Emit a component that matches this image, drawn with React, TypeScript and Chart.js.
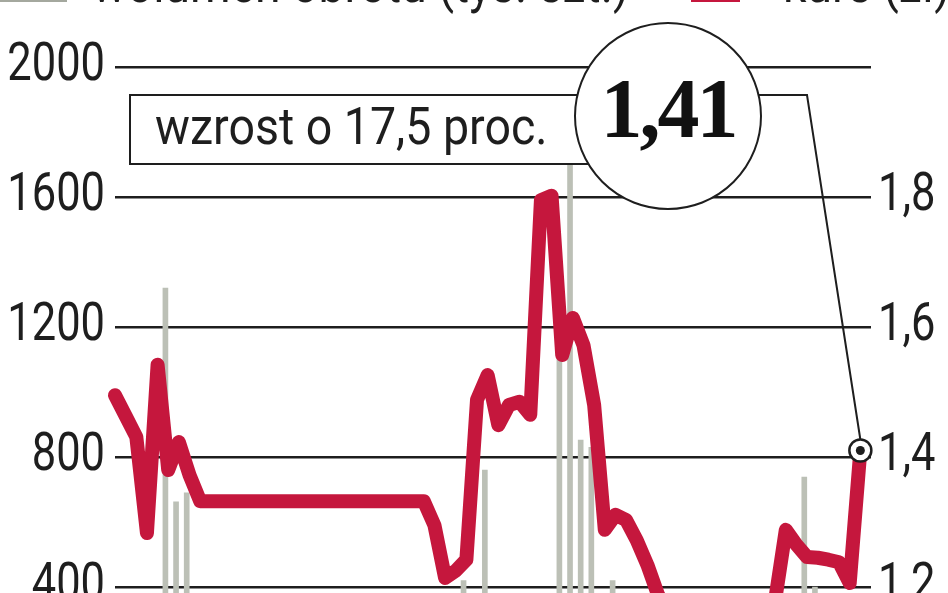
import { useEffect, useRef } from "react";
import Chart from "chart.js/auto";

// kurs (zł) – one value per session
const price = [
  1.495, 1.463, 1.431, 1.283, 1.542, 1.38, 1.423, 1.372, 1.332,
  1.332, 1.332, 1.332, 1.332, 1.332, 1.332, 1.332, 1.332, 1.332, 1.332,
  1.332, 1.332, 1.332, 1.332, 1.332, 1.332, 1.332, 1.332, 1.332, 1.332,
  1.332, 1.295, 1.214, 1.225, 1.242, 1.488, 1.526, 1.449, 1.48, 1.485,
  1.465, 1.795, 1.802, 1.557, 1.614, 1.572, 1.48, 1.288, 1.311, 1.303,
  1.272, 1.234, 1.188, 1.149, 1.134, 1.137, 1.126, 1.118, 1.134, 1.142,
  1.134, 1.149, 1.165, 1.18, 1.288, 1.265, 1.246, 1.245, 1.242, 1.238,
  1.206, 1.41,
];

// wolumen obrotu (tys. szt.) – bars between sessions, only the visible tops
const volume = [
  null, null, null, null, 1320, 662, 690, null, null, null,
  null, null, null, null, null, null, null, null, null, null,
  null, null, null, null, null, null, null, null, null, null,
  null, null, 420, null, 760, null, null, null, null, null,
  null, 1190, 1760, 852, 830, null, 420, null, null, null,
  null, null, null, null, null, null, null, null, null, null,
  null, null, null, null, 738, 400, null, null, null, null,
];

const volumeTicks = [0, 400, 800, 1200, 1600, 2000];
const priceTicks = [1.0, 1.2, 1.4, 1.6, 1.8, 2.0];

// the time axis runs one session past the last quote
const sessionLabels = Array.from({ length: price.length + 1 }, (_, i) => String(i + 1));
const slotLabels = sessionLabels.slice(1);

const LINE = "#c5173d";
const BAR = "#bcc0b6";
const INK = "#1e1e1e";
const SANS = "Roboto, 'DejaVu Sans', sans-serif";

const fmtVolume = (v: number) => String(v);
const fmtPrice = (v: number) => (v >= 1.99 ? "" : v.toFixed(1).replace(".", ","));

// condensed tick labels (no narrow font available, so squeeze Roboto)
const narrowTicks = {
  id: "narrowTicks",
  afterDraw(chart: any) {
    const ctx = chart.ctx;
    const sides: [string, "left" | "right", (v: number) => string][] = [
      ["y", "left", fmtVolume],
      ["y1", "right", fmtPrice],
    ];
    for (const [id, side, fmt] of sides) {
      const s = chart.scales[id];
      for (const t of s.ticks) {
        const label = fmt(t.value);
        if (!label) continue;
        const y = s.getPixelForValue(t.value) + 13;
        const x = side === "left" ? s.right - 10 : s.left + 7;
        ctx.save();
        ctx.translate(x, y);
        ctx.scale(0.82, 1);
        ctx.font = `53px ${SANS}`;
        ctx.fillStyle = INK;
        ctx.textAlign = side === "left" ? "right" : "left";
        ctx.textBaseline = "alphabetic";
        ctx.fillText(label, 0, 0);
        ctx.restore();
      }
    }
  },
};

// leader line from the label box to the last point + ring marker
const lastPointMarker = {
  id: "lastPointMarker",
  afterDatasetsDraw(chart: any) {
    const meta = chart.getDatasetMeta(0);
    const pt = meta.data[meta.data.length - 1];
    if (!pt) return;
    const ctx = chart.ctx;
    ctx.save();
    ctx.strokeStyle = INK;
    ctx.lineWidth = 2;
    ctx.beginPath();
    ctx.moveTo(640, 95);
    ctx.lineTo(807, 95);
    ctx.lineTo(pt.x, pt.y - 11);
    ctx.stroke();
    ctx.beginPath();
    ctx.arc(pt.x, pt.y, 11, 0, Math.PI * 2);
    ctx.fillStyle = "#fff";
    ctx.fill();
    ctx.lineWidth = 2.5;
    ctx.stroke();
    ctx.beginPath();
    ctx.arc(pt.x, pt.y, 4.5, 0, Math.PI * 2);
    ctx.fillStyle = INK;
    ctx.fill();
    ctx.restore();
  },
};

export default function App() {
  const canvasRef = useRef<HTMLCanvasElement | null>(null);
  const chartRef = useRef<Chart | null>(null);

  useEffect(() => {
    if (!canvasRef.current) return;
    chartRef.current?.destroy();
    chartRef.current = new Chart(canvasRef.current, {
      type: "bar",
      data: {
        labels: sessionLabels,
        datasets: [
          {
            type: "line",
            label: "kurs (zł)",
            data: price,
            xAxisID: "x",
            yAxisID: "y1",
            borderColor: LINE,
            borderWidth: 14,
            borderJoinStyle: "round",
            borderCapStyle: "round",
            pointRadius: 0,
            tension: 0,
            clip: 20,
            order: 0,
          } as any,
          {
            type: "bar",
            label: "wolumen obrotu (tys. szt.)",
            data: volume,
            xAxisID: "xb",
            yAxisID: "y",
            backgroundColor: BAR,
            barThickness: 5,
            order: 1,
          } as any,
        ],
      },
      options: {
        animation: false,
        responsive: true,
        maintainAspectRatio: false,
        layout: { padding: { top: 67, left: 0, right: 0, bottom: 43 } },
        plugins: { legend: { display: false }, tooltip: { enabled: false } },
        scales: {
          x: { type: "category", labels: sessionLabels, offset: false, display: false },
          xb: { type: "category", labels: slotLabels, offset: true, display: false },
          y: {
            position: "left",
            min: volumeTicks[0],
            max: volumeTicks[volumeTicks.length - 1],
            afterBuildTicks: (s: any) => {
              s.ticks = volumeTicks.map((v) => ({ value: v }));
            },
            afterFit: (s: any) => {
              s.width = 115;
            },
            ticks: { display: false },
            grid: { color: INK, lineWidth: 2.5, drawTicks: false },
            border: { display: false },
          },
          y1: {
            position: "right",
            min: priceTicks[0],
            max: priceTicks[priceTicks.length - 1],
            afterBuildTicks: (s: any) => {
              s.ticks = priceTicks.map((v) => ({ value: v }));
            },
            afterFit: (s: any) => {
              s.width = 77;
            },
            ticks: { display: false },
            grid: { display: false, drawTicks: false },
            border: { display: false },
          },
        },
      } as any,
      plugins: [lastPointMarker, narrowTicks],
    });
    return () => {
      chartRef.current?.destroy();
      chartRef.current = null;
    };
  }, []);

  const text = {
    position: "absolute" as const,
    fontFamily: SANS,
    fontSize: 52,
    lineHeight: 1,
    color: INK,
    whiteSpace: "nowrap" as const,
    transformOrigin: "left top",
  };

  return (
    <div
      style={{
        position: "fixed",
        left: 0,
        top: 0,
        width: 948,
        height: 593,
        overflow: "hidden",
        background: "#fff",
      }}
    >
      <div style={{ position: "absolute", left: 0, top: 0, width: 948, height: 760 }}>
        <canvas ref={canvasRef} />
      </div>

      {/* legend, cut by the top edge */}
      <div style={{ position: "absolute", left: 0, top: -7, width: 67, height: 9, background: "#a4a89e" }} />
      <div style={{ ...text, left: 92, top: -41, transform: "scaleX(0.89)" }}>wolumen obrotu (tys. szt.)</div>
      <div style={{ position: "absolute", left: 691, top: -7, width: 49, height: 9, background: LINE }} />
      <div style={{ ...text, left: 783, top: -41, transform: "scaleX(0.89)" }}>kurs (zł)</div>

      {/* label box */}
      <div
        style={{
          position: "absolute",
          left: 129,
          top: 94,
          width: 520,
          height: 71,
          boxSizing: "border-box",
          border: `2.5px solid ${INK}`,
          background: "#fff",
        }}
      />
      <div style={{ ...text, left: 155, top: 101, transform: "scaleX(0.895)" }}>wzrost o 17,5 proc.</div>

      {/* value circle */}
      <div
        style={{
          position: "absolute",
          left: 574,
          top: 22,
          width: 188,
          height: 188,
          boxSizing: "border-box",
          borderRadius: "50%",
          border: `2.5px solid ${INK}`,
          background: "#fff",
        }}
      />
      <div
        style={{
          ...text,
          left: 574,
          top: 67,
          width: 188,
          textAlign: "center",
          fontFamily: "'Liberation Serif', 'DejaVu Serif', serif",
          fontWeight: 700,
          fontSize: 84,
          letterSpacing: -3,
          color: "#111",
        }}
      >
        1,41
      </div>
    </div>
  );
}
